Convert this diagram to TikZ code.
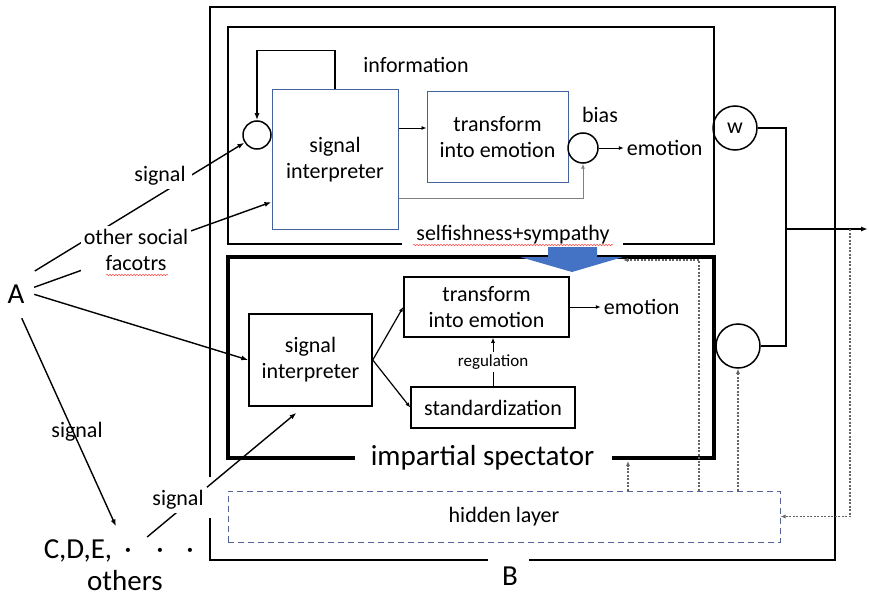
\documentclass[tikz,border=0pt]{standalone}
\usepackage{fontspec}
\setmainfont{Carlito}
\usepackage{tikz}
\usetikzlibrary{positioning,arrows.meta,decorations.pathmorphing}

\definecolor{boxblue}{RGB}{68,98,158}
\definecolor{fatblue}{RGB}{68,114,196}
\definecolor{dashblue}{RGB}{84,98,150}
\definecolor{dotgray}{RGB}{100,100,100}

\begin{document}
\begin{tikzpicture}[
  x=1pt, y=-1pt,
  every node/.style={font=\fontsize{22}{26}\selectfont, align=center, inner sep=3pt},
  big/.style={font=\fontsize{29}{33}\selectfont},
  small/.style={font=\fontsize{17}{20}\selectfont},
  blk/.style={rectangle, draw, line width=1.5pt},
  blu/.style={rectangle, draw=boxblue, line width=1pt},
  sum/.style={circle, draw, line width=1.5pt, inner sep=0pt},
  cover/.style={fill=white},
  frame/.style={line width=2pt},
  arrow/.style={-{Latex[length=7pt,width=5pt]}, line width=1.4pt},
  thinarrow/.style={-{Latex[length=5pt,width=4pt]}, line width=0.9pt},
  dotarrow/.style={-{Latex[length=5pt,width=4pt]}, dash pattern=on 2pt off 1.5pt,
                   dotgray, line width=1.1pt},
  squig/.style={red!70, line width=0.5pt, decorate,
                decoration={snake, amplitude=0.7pt, segment length=3pt}}
]
  \useasboundingbox (0,0) rectangle (869,596);

  % frames
  \draw[frame] (210,477) -- (210,7) -- (835,7) -- (835,560) -- (529,560)
               (488,560) -- (210,560) -- (210,518);
  \draw[frame] (402,244) -- (228,244) -- (228,27) -- (714,27) -- (714,244) -- (623,244);
  \draw[frame, line width=3.5pt] (355,458) -- (228,458) -- (228,257) -- (714,257)
               -- (714,458) -- (612,458);
  \node[anchor=base] (selfsym) at (513,240) {selfishness+sympathy};
  \node[big, anchor=base] (spect) at (482.5,465) {impartial spectator};
  \node[big, anchor=base] (B) at (510,585) {B};
  \fill[fatblue] (548,247) -- (597,247) -- (597,257) -- (623,257) -- (572,272)
                 -- (520,257) -- (548,257) -- cycle;

  % upper part
  \node[blu, minimum width=126pt, minimum height=139pt] (siU) at (335,159.5) {signal\\interpreter};
  \node[blu, minimum width=141pt, minimum height=90pt] (teU) at (497.5,137) {transform\\into emotion};
  \node[sum, minimum size=28pt] (inU) at (257,135) {};
  \node[sum, minimum size=30pt] (biasU) at (583,148) {};
  \node (biasLbl) at (600,115) {bias};
  \node[right=25pt of biasU] (emoU) {emotion};
  \node (info) at (416,65) {information};
  \node[sum, minimum size=44pt] (wU) at (735,128) {w};

  % lower part
  \node[blk, minimum width=123pt, minimum height=92pt] (siL) at (310.5,360) {signal\\interpreter};
  \node[blk, minimum width=165pt, minimum height=60pt] (teL) at (486.5,307) {transform\\into emotion};
  \node[blk, minimum width=164pt, minimum height=41pt] (stdL) at (493,407.5) {standardization};
  \node[right=31pt of teL] (emoL) {emotion};
  \node[sum, minimum size=44pt] (sumL) at (738,346) {};

  \node[rectangle, draw=dashblue, dash pattern=on 6pt off 4pt, line width=1pt,
        minimum width=552pt, minimum height=51pt] (hidden) at (504,516.5) {hidden layer};

  % left side
  \node[big, inner sep=2pt] (A) at (16,294) {A};
  \node[big, anchor=base] (cde) at (78,558) {C,D,E,};
  \foreach \i/\x in {1/128, 2/160, 3/190}
    \node[big, anchor=base] (dot\i) at (\x,558) {·};
  \node[big, anchor=base] (others) at (125,590) {others};

  \coordinate (jn) at (786,229);
  \coordinate (out) at (868,229);
  \coordinate (spectIn) at (628,461);
  \coordinate (selfIn) at (623,260);

  \draw[arrow] (siU.north) -- ++(0,-39) -| (inU.north);
  \draw[thinarrow] ([yshift=31.5pt]siU.east) coordinate (p1) -- (p1 -| teU.west);
  \draw[thinarrow, gray] ([yshift=-38.5pt]siU.east) -| (biasU.south);
  \draw[thinarrow] (biasU) -- (emoU);

  \draw[line width=1.5pt] (wU) -| (jn);
  \draw[line width=1.5pt] (sumL) -| (jn);
  \draw[arrow] (jn) -- (out);

  \draw[thinarrow, line width=1.2pt] (siL.east) -- (teL.west);
  \draw[thinarrow, line width=1.2pt] (siL.east) -- (stdL.west);
  \draw[thinarrow] (teL) -- (emoL);
  \draw[thinarrow] (stdL.north) -- node[small, fill=white] (reg) {regulation} (stdL.north |- teL.south);

  \draw[arrow, shorten <=22pt] (A.north) -- (inU);
  \draw[arrow, shorten <=8pt] ([yshift=4pt]A.east) -- ([yshift=-42.5pt]siU.west);
  \draw[arrow, shorten <=8pt] ([yshift=2pt]A.east) -- (siL.west);
  \draw[arrow, shorten <=14pt, shorten >=20pt] (A.south) -- (dot1);
  \draw[arrow, shorten <=16pt] (dot1) -- ([xshift=-14pt,yshift=-6pt]siL.south);

  \node[cover, inner xsep=6pt] (sigA) at (160,176) {signal};
  \node[cover] (osf) at (136,250) {other social\\facotrs};
  \node (sigC) at (77,432) {signal};
  \node[cover] (sigD) at (178,500) {signal};

  \draw[dotarrow] (hidden.north -| spectIn) -- (spectIn);
  \draw[dotarrow] ([xshift=195pt]hidden.north) |- (selfIn);
  \draw[dotarrow] (hidden.north -| sumL.south) -- (sumL.south);
  \draw[dotarrow] ([xshift=64pt]jn) |- (hidden.east);

  \draw[squig] (106,275) -- (168,275);
  \draw[squig] (413,245) -- (613,245);
\end{tikzpicture}
\end{document}
